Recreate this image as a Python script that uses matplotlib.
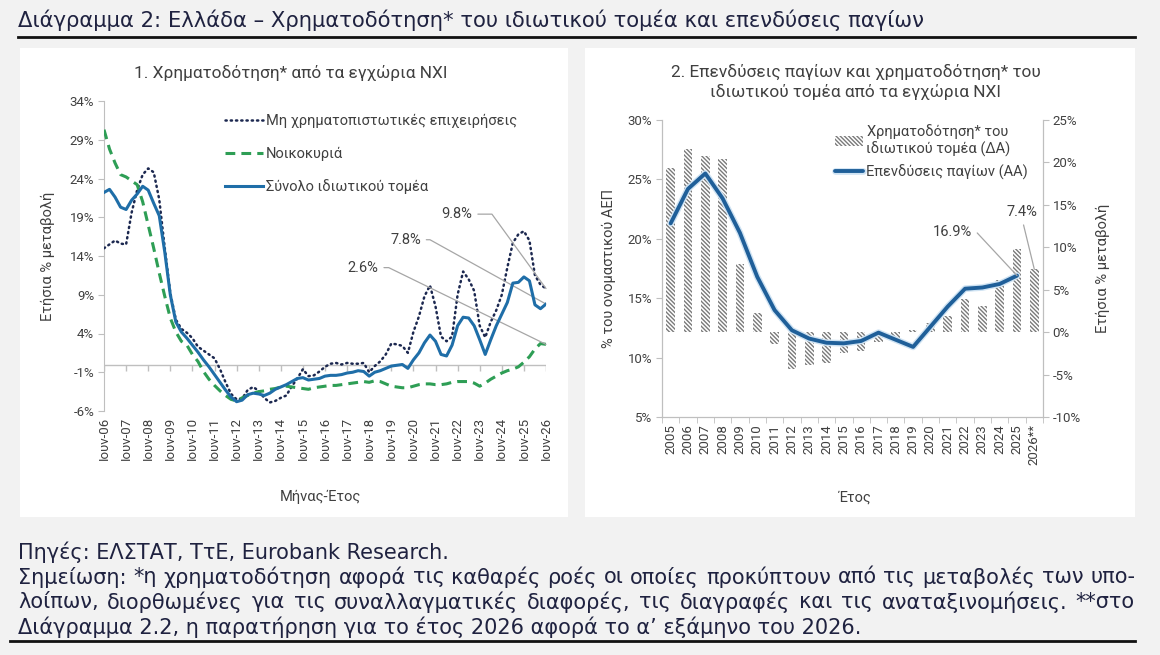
import numpy as np
import matplotlib.pyplot as plt
from matplotlib.patches import Rectangle
from matplotlib.lines import Line2D
import matplotlib.patheffects as pe

plt.rcParams['font.family'] = ['Roboto', 'DejaVu Sans']
plt.rcParams['hatch.linewidth'] = 1.0

W, H = 1160, 655

# ---- data: chart 1, annual % change, every 3 months from Ιουν-06 ----
month_step = 3
nfc = [15.0, 15.5, 16.0, 15.6, 15.5, 19.6, 22.5, 24.5, 25.3, 24.8,
       21.3, 15.0, 9.2, 5.8, 4.6, 4.1, 3.4, 2.3, 1.8, 1.3,
       0.8, -0.6, -2.3, -3.8, -4.5, -4.4, -3.3, -2.9, -3.4, -4.3,
       -4.9, -4.7, -4.3, -4.0, -2.8, -1.8, -0.6, -1.5, -1.4, -0.9,
       -0.3, 0.1, 0.2, 0.0, 0.2, 0.1, 0.1, 0.2, -1.0, -0.2,
       0.4, 1.3, 2.7, 2.6, 2.4, 1.5, 4.2, 6.2, 8.8, 10.2,
       7.5, 3.6, 3.0, 3.6, 9.0, 12.0, 11.0, 9.5, 5.0, 3.5,
       5.5, 7.0, 9.0, 12.5, 15.7, 16.8, 17.2, 16.0, 11.5, 10.3,
       9.8]
households = [30.3, 27.8, 26.0, 24.5, 24.2, 23.7, 23.2, 21.0, 18.0, 15.0,
              11.8, 8.8, 6.0, 4.2, 3.0, 2.5, 1.3, 0.4, -0.9, -1.9,
              -2.7, -3.4, -4.0, -4.5, -4.7, -4.3, -4.0, -3.7, -3.5, -3.4,
              -3.2, -3.1, -2.9, -2.8, -2.9, -3.0, -3.1, -3.2, -3.0, -2.9,
              -2.8, -2.7, -2.7, -2.6, -2.5, -2.4, -2.3, -2.2, -2.3, -2.1,
              -2.2, -2.5, -2.8, -2.9, -3.0, -3.0, -2.8, -2.6, -2.5, -2.5,
              -2.6, -2.6, -2.5, -2.3, -2.2, -2.2, -2.2, -2.4, -2.8, -2.4,
              -1.9, -1.5, -1.1, -0.8, -0.6, -0.3, 0.3, 1.0, 2.0, 2.7,
              2.6]
total = [22.2, 22.6, 21.6, 20.3, 20.0, 21.2, 22.0, 23.0, 22.5, 20.8,
         19.2, 14.5, 9.0, 5.5, 4.2, 3.4, 2.5, 1.6, 0.6, -0.3,
         -1.3, -2.3, -3.3, -4.2, -4.8, -4.6, -3.9, -3.7, -3.8, -4.0,
         -3.7, -3.2, -2.9, -2.6, -2.2, -1.8, -1.7, -2.0, -1.9, -1.8,
         -1.5, -1.4, -1.4, -1.3, -1.1, -1.0, -0.8, -0.9, -1.5, -1.0,
         -0.8, -0.5, -0.2, -0.1, 0.0, -0.5, 0.6, 1.5, 2.8, 3.8,
         3.0, 1.3, 1.1, 2.5, 5.0, 6.1, 6.0, 5.0, 3.2, 1.3,
         3.2, 5.0, 6.5, 8.0, 10.5, 10.6, 11.3, 10.8, 7.7, 7.2,
         7.8]
tick_labels1 = ['Ιουν-%02d' % y for y in range(6, 27)]

# ---- data: chart 2 ----
years = [str(y) for y in range(2005, 2026)] + ['2026**']
financing = [19.4, 21.6, 20.7, 20.4, 8.0, 2.2, -1.4, -4.4, -3.9, -3.6, -2.4,
             -2.2, -1.2, -0.9, 0.3, 1.1, 1.9, 3.9, 3.1, 6.1, 9.8, 7.4]
investment = [21.3, 24.2, 25.5, 23.4, 20.5, 16.8, 14.0, 12.3, 11.6, 11.25, 11.2,
              11.4, 12.1, 11.5, 10.9, 12.6, 14.3, 15.8, 15.9, 16.2, 16.9]

navy = '#1f2240'
txt = '#404040'
grey = '#bfbfbf'
page_font = ['DejaVu Sans']


def fx(x):
    return x / W


def fy(y):
    return 1 - y / H


fig = plt.figure(figsize=(W / 100, H / 100), dpi=100)
fig.patch.set_facecolor('#f2f2f2')
for x0, x1 in [(20, 568), (585, 1135)]:
    fig.add_artist(Rectangle((fx(x0), fy(517)), (x1 - x0) / W, (517 - 48) / H,
                             transform=fig.transFigure, facecolor='white',
                             edgecolor='none', zorder=0))

fig.text(fx(18), fy(20), 'Διάγραμμα 2: Ελλάδα – Χρηματοδότηση* του ιδιωτικού τομέα και επενδύσεις παγίων',
         fontsize=15.2, color=navy, va='center', ha='left', family=page_font)
fig.add_artist(Line2D([fx(18), fx(1135)], [fy(37), fy(37)], color='#111111', lw=2))
fig.add_artist(Line2D([fx(10), fx(1135)], [fy(641), fy(641)], color='#111111', lw=2))

# ================= chart 1 =================
ax = fig.add_axes([fx(104), fy(411), 442 / W, 310 / H])
months = np.arange(len(total)) * month_step
ax.plot(months, nfc, color='#1c2850', lw=1.8, ls=(0, (0.5, 1.6)),
        dash_capstyle='round', label='Μη χρηματοπιστωτικές επιχειρήσεις', zorder=3)
ax.plot(months, households, color='#2e9e55', lw=2.2, ls=(0, (3.2, 2.0)),
        label='Νοικοκυριά', zorder=3)
ax.plot(months, total, color='#1f6ea8', lw=2.2, label='Σύνολο ιδιωτικού τομέα', zorder=4)

ax.set_xlim(0, months[-1])
ax.set_ylim(-6, 34)
ax.set_yticks(np.arange(-6, 35, 5))
ax.set_yticklabels(['%d%%' % v for v in np.arange(-6, 35, 5)])
xt = np.arange(0, months[-1] + 1, 12)
ax.set_xticks(xt)
ax.set_xticklabels(tick_labels1, rotation=90)
ax.axhline(0, color=grey, lw=1, zorder=1)
ax.vlines(xt, -0.8, 0, color=grey, lw=1, zorder=1)
for s in ['top', 'right', 'bottom']:
    ax.spines[s].set_visible(False)
ax.spines['left'].set_color(grey)
ax.tick_params(axis='y', colors=grey, labelcolor=txt, labelsize=9.5, length=4, pad=3)
ax.tick_params(axis='x', length=0, labelcolor=txt, labelsize=9.5, pad=4)
ax.set_ylabel('Ετήσια % μεταβολή', fontsize=10.5, color=txt)
ax.yaxis.set_label_coords(-0.11, 0.5)
ax.set_xlabel('Μήνας-Έτος', fontsize=10.5, color=txt)
ax.xaxis.set_label_coords(0.49, -0.255)
ax.legend(loc='upper left', bbox_to_anchor=(0.245, 1.0), frameon=False,
          handlelength=2.6, handletextpad=0.2, labelspacing=1.25,
          fontsize=10.5, labelcolor=txt)

for series, tx, ty, angle in [(nfc, 200, 19.4, -54), (total, 172, 16.1, -29),
                              (households, 149, 12.5, -26)]:
    ax.annotate('%.1f%%' % series[-1], xy=(months[-1], series[-1]), xytext=(tx, ty),
                ha='right', va='center', fontsize=10.5, color=txt,
                arrowprops=dict(arrowstyle='-', color='#a6a6a6', lw=0.9, shrinkA=2, shrinkB=0,
                                connectionstyle='angle,angleA=0,angleB=%d,rad=0' % angle))

fig.text(fx(291), fy(73), '1. Χρηματοδότηση* από τα εγχώρια ΝΧΙ', ha='center', va='center',
         fontsize=12.4, color=txt)

# ================= chart 2 =================
ax1 = fig.add_axes([fx(662), fy(417), 381 / W, 297 / H])
ax2 = ax1.twinx()
xpos = np.arange(len(years))
ax2.bar(xpos, financing, width=0.5, facecolor='white', edgecolor='#7a7a7a', lw=0,
        hatch='\\' * 8, label='Χρηματοδότηση* του\nιδιωτικού τομέα (ΔΑ)')
ln, = ax1.plot(xpos[:len(investment)], investment, color='#1f5f99', lw=2.8,
               solid_capstyle='round', label='Επενδύσεις παγίων (ΑΑ)',
               path_effects=[pe.Stroke(linewidth=4.8, foreground='#cfe3f3'), pe.Normal()])
ax1.set_zorder(2)
ax2.set_zorder(1)
ax1.patch.set_visible(False)

ax1.set_xlim(-0.5, len(years) - 0.5)
ax1.set_ylim(5, 30)
ax2.set_ylim(-10, 25)
ax1.set_yticks(np.arange(5, 31, 5))
ax1.set_yticklabels(['%d%%' % v for v in np.arange(5, 31, 5)])
ax2.set_yticks(np.arange(-10, 26, 5))
ax2.set_yticklabels(['%d%%' % v for v in np.arange(-10, 26, 5)])
ax1.set_xticks(xpos)
ax1.set_xticklabels(years, rotation=90)
ax1.set_xticks(np.arange(-0.5, len(years), 1), minor=True)
ax1.tick_params(axis='x', which='major', length=0, labelcolor=txt, labelsize=9.5, pad=5)
ax1.tick_params(axis='x', which='minor', length=4, color=grey)
for a in (ax1, ax2):
    a.spines['top'].set_visible(False)
    for s in ['left', 'right', 'bottom']:
        a.spines[s].set_color(grey)
    a.tick_params(axis='y', colors=grey, labelcolor=txt, labelsize=9.5, length=4, pad=3)
ax1.set_ylabel('% του ονομαστικού ΑΕΠ', fontsize=10.5, color=txt)
ax1.yaxis.set_label_coords(-0.12, 0.5)
ax2.set_ylabel('Ετήσια % μεταβολή', fontsize=10.5, color=txt)
ax2.yaxis.set_label_coords(1.14, 0.5)
ax1.set_xlabel('Έτος', fontsize=10.5, color=txt)
ax1.xaxis.set_label_coords(0.507, -0.246)

h2, l2 = ax2.get_legend_handles_labels()
leg = ax1.legend(h2 + [ln], l2 + [ln.get_label()], loc='upper left', bbox_to_anchor=(0.42, 1.03),
                 frameon=False, handlelength=1.9, handletextpad=0.2, labelspacing=0.5,
                 fontsize=10.5, labelcolor=txt)
leg.get_texts()[0].set_multialignment('center')

ax1.annotate('%.1f%%' % investment[-1], xy=(len(investment) - 1, investment[-1]),
             xytext=(17.4, 20.6), ha='right', va='center', fontsize=10.5, color=txt,
             arrowprops=dict(arrowstyle='-', color='#a6a6a6', lw=0.9, shrinkA=2, shrinkB=0,
                             connectionstyle='angle,angleA=0,angleB=-47,rad=0'))
ax2.annotate('%.1f%%' % financing[-1], xy=(len(financing) - 1, financing[-1]),
             xytext=(20.3, 14.1), ha='center', va='center', fontsize=10.5, color=txt,
             arrowprops=dict(arrowstyle='-', color='#a6a6a6', lw=0.9, shrinkA=2, shrinkB=0,
                             relpos=(0.5, 0.0)))

fig.text(fx(856), fy(82), '2. Επενδύσεις παγίων και χρηματοδότηση* του\nιδιωτικού τομέα από τα εγχώρια ΝΧΙ',
         ha='center', va='center', fontsize=12.4, color=txt, linespacing=1.3)

# ================= footer (lines 2-3 justified like the source) =================
footer = ['Πηγές: ΕΛΣΤΑΤ, ΤτΕ, Eurobank Research.',
          'Σημείωση: *η χρηματοδότηση αφορά τις καθαρές ροές οι οποίες προκύπτουν από τις μεταβολές των υπο-',
          'λοίπων, διορθωμένες για τις συναλλαγματικές διαφορές, τις διαγραφές και τις αναταξινομήσεις. **στο',
          'Διάγραμμα 2.2, η παρατήρηση για το έτος 2026 αφορά το α’ εξάμηνο του 2026.']
justify = [False, True, True, False]
renderer = fig.canvas.get_renderer()
left_px, right_px = 18, 1135
for i, line in enumerate(footer):
    y = fy(552 + 25 * i)
    if not justify[i]:
        fig.text(fx(left_px), y, line, fontsize=15.0, color=navy, va='center', ha='left',
                 family=page_font)
        continue
    words = line.split(' ')
    items = [fig.text(0, y, w, fontsize=15.0, color=navy, va='center', ha='left',
                      family=page_font) for w in words]
    widths = [t.get_window_extent(renderer).width for t in items]
    gap = (right_px - left_px - sum(widths)) / (len(words) - 1)
    pos = left_px
    for t, w in zip(items, widths):
        t.set_x(fx(pos))
        pos += w + gap

fig.savefig('out.png', dpi=100, facecolor=fig.get_facecolor())
